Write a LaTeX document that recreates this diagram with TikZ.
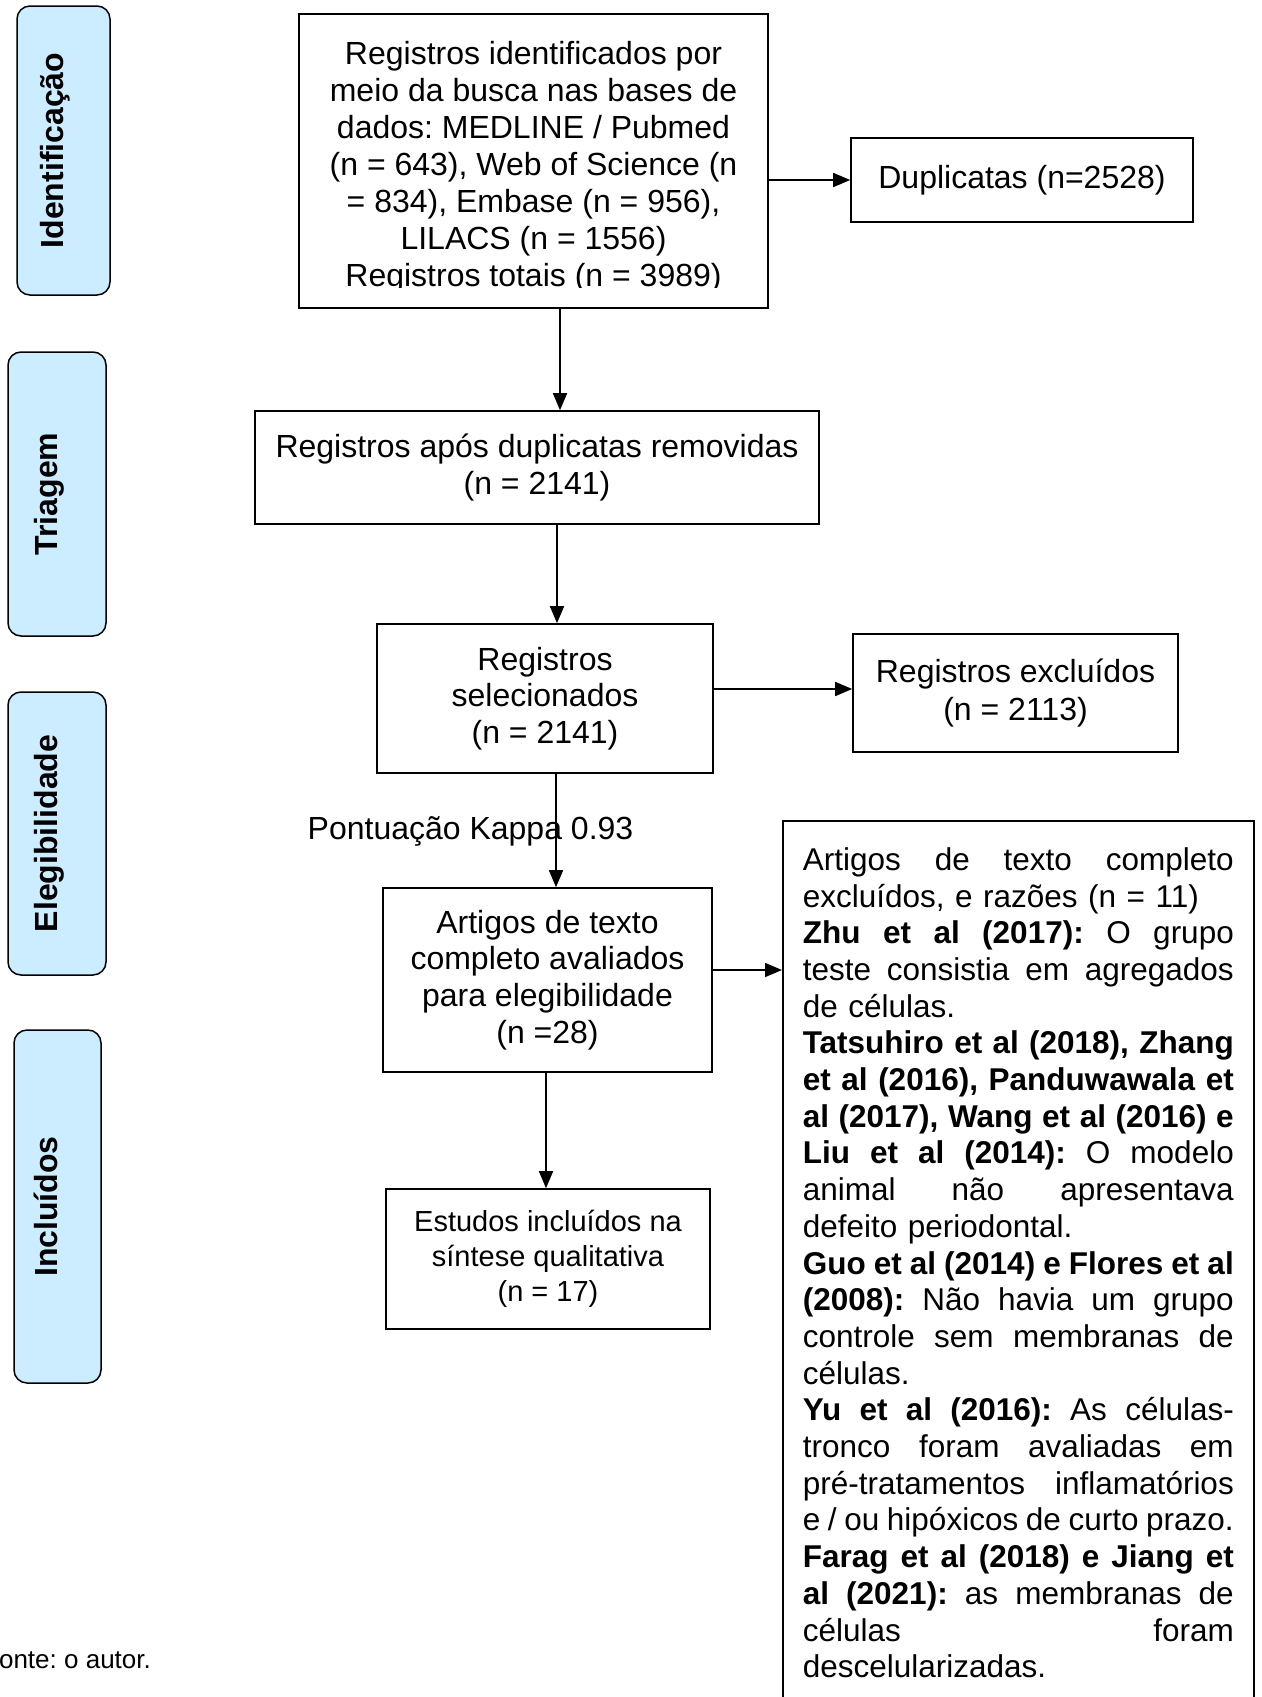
\documentclass[tikz,border=0pt]{standalone}
\usepackage{fontspec}
\setmainfont{Liberation Sans}
\usetikzlibrary{arrows.meta}
\definecolor{stagefill}{RGB}{204,236,255}
\newlength{\reasonw}
\setlength{\reasonw}{431pt}
\newcommand{\jline}[1]{\leavevmode\hbox to \reasonw{\spaceskip=.278em plus 1fil minus .1em\relax #1}\\}
\frenchspacing

\begin{document}
\begin{tikzpicture}[x=1pt,y=-1pt,
    >={Triangle[length=17pt,width=14pt]},
    flowbox/.style={draw,line width=1.6pt,inner sep=0pt,align=center,font=\fontsize{32}{36.7}\selectfont},
    stage/.style={draw,line width=1.5pt,rounded corners=13pt,fill=stagefill,rotate=90,inner sep=0pt,
      text height=24pt,text depth=24pt,font=\fontsize{32}{38}\selectfont\bfseries},
    reasonbox/.style={draw,line width=1.6pt,anchor=north west,text width=\reasonw,inner xsep=20pt,
      inner ysep=26.7pt,align=left,font=\fontsize{31.5}{36.7}\selectfont},
    flow/.style={line width=1.6pt,->}]
  \useasboundingbox (0,0) rectangle (1261,1697);
  \clip (0,0) rectangle (1261,1697);

  \node[stage,minimum width=289pt,minimum height=93pt] (ident) at (63.5,150.5) {Identificação};
  \node[stage,minimum width=284pt,minimum height=98pt] (triag) at (57,494) {Triagem};
  \node[stage,minimum width=283pt,minimum height=98pt] (elegib) at (57,833.5) {Elegibilidade};
  \node[stage,minimum width=353pt,minimum height=87pt] (inclu) at (57.5,1206.5) {Incluídos};

  \node[flowbox,minimum width=469pt,minimum height=294pt] (records) at (533.5,161) {};
  \begin{scope}
    \clip (records.north west) rectangle ([yshift=21pt]records.south east);
    \node[align=center,font=\fontsize{32}{37}\selectfont] (recordstext) at ([yshift=-6.3pt]records.center)
      {Registros identificados por\\meio da busca nas bases de\\dados: MEDLINE / Pubmed\\(n = 643), Web of Science (n\\= 834), Embase (n = 956),\\LILACS (n = 1556)\\Registros totais (n = 3989)};
  \end{scope}
  \node[flowbox,minimum width=342pt,minimum height=84pt] (dup) at (1022,180) {Duplicatas (n=2528)};
  \node[flowbox,minimum width=564pt,minimum height=113pt] (after) at (537,467.5)
    {Registros após duplicatas removidas\\(n = 2141)};
  \node[flowbox,minimum width=336pt,minimum height=149pt] (sel) at (545,698.5) {Registros\\selecionados\\(n = 2141)};
  \node[flowbox,minimum width=325pt,minimum height=118pt,font=\fontsize{32}{38}\selectfont] (excl) at (1015.5,693)
    {Registros excluídos\\(n = 2113)};
  \node[anchor=base,inner sep=0pt,font=\fontsize{32}{36}\selectfont] (kappa) at (470.5,839) {Pontuação Kappa 0.93};
  \node[flowbox,minimum width=329pt,minimum height=184pt] (full) at (547.5,980)
    {Artigos de texto\\completo avaliados\\para elegibilidade\\(n =28)};
  \node[flowbox,minimum width=324pt,minimum height=140pt,font=\fontsize{29}{35}\selectfont] (incl) at (548,1259)
    {Estudos incluídos na\\síntese qualitativa\\(n = 17)};
  \node[reasonbox] (reasons) at (782,820) {%
    \jline{Artigos de texto completo}
    excluídos, e razões (n = 11)\\
    \jline{\textbf{Zhu et al (2017):} O grupo}
    \jline{teste consistia em agregados}
    de células.\\
    \jline{\textbf{Tatsuhiro et al (2018), Zhang}}
    \jline{\textbf{et al (2016), Panduwawala et}}
    \jline{\textbf{al (2017), Wang et al (2016) e}}
    \jline{\textbf{Liu et al (2014):} O modelo}
    \jline{animal não apresentava}
    defeito periodontal.\\
    \jline{\textbf{Guo et al (2014) e Flores et al}}
    \jline{\textbf{(2008):} Não havia um grupo}
    \jline{controle sem membranas de}
    células.\\
    \jline{\textbf{Yu et al (2016):} As células-}
    \jline{tronco foram avaliadas em}
    \jline{pré-tratamentos inflamatórios}
    \jline{e / ou hipóxicos de curto prazo.}
    \jline{\textbf{Farag et al (2018) e Jiang et}}
    \jline{\textbf{al (2021):} as membranas de}
    \jline{células foram}
    descelularizadas.};
  \node[anchor=base west,inner sep=0pt,font=\fontsize{26}{30}\selectfont] (fonte) at (-17,1668) {Fonte: o autor.};

  \draw[flow] (dup.west -| records.east) -- (dup.west);
  \draw[flow] ([xshift=26.5pt]records.south) -- ([xshift=23pt]after.north);
  \draw[flow] ([xshift=20pt]after.south) -- ([xshift=12pt]sel.north);
  \draw[flow] ([yshift=4pt]excl.west -| sel.east) -- ([yshift=4pt]excl.west);
  \draw[flow] ([xshift=11pt]sel.south) -- ([xshift=8.5pt]full.north);
  \draw[flow] ([yshift=10pt]full.east) -- ([yshift=10pt]full.east -| reasons.west);
  \draw[flow] ([xshift=-1.5pt]full.south) -- ([xshift=-2pt]incl.north);
\end{tikzpicture}
\end{document}
